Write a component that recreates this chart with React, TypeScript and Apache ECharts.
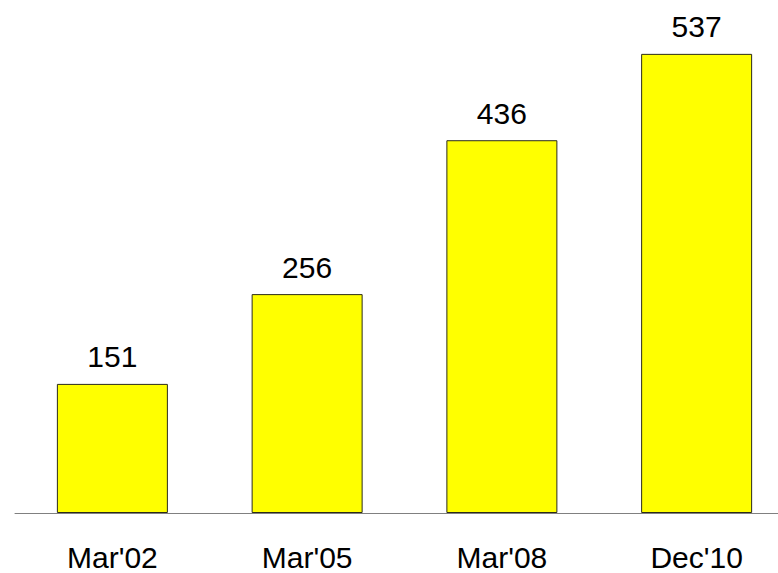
import React, { useEffect, useRef } from "react";
import * as echarts from "echarts";

// Period labels along the bottom axis and the count reached in each
const periods: string[] = ["Mar'02", "Mar'05", "Mar'08", "Dec'10"];
const counts: number[] = [151, 256, 436, 537];

export default function App() {
  const ref = useRef<HTMLDivElement>(null);

  useEffect(() => {
    document.body.style.margin = "0";
    if (!ref.current) return;
    const chart = echarts.init(ref.current, undefined, { renderer: "svg" });
    chart.setOption({
      animation: false,
      backgroundColor: "#ffffff",
      textStyle: { fontFamily: "Liberation Sans, Arial, sans-serif" },
      // the plot runs slightly past the visible frame on the right
      grid: { left: 15, right: 6, top: 0, bottom: 60, containLabel: false },
      xAxis: {
        type: "category",
        data: periods,
        axisTick: { show: false },
        axisLine: { lineStyle: { color: "#808080", width: 1 } },
        axisLabel: {
          color: "#000000",
          fontSize: 30,
          margin: 29,
          fontFamily: "Liberation Sans, Arial, sans-serif",
        },
      },
      yAxis: {
        type: "value",
        min: 0,
        max: 600,
        show: false,
        splitLine: { show: false },
      },
      series: [
        {
          type: "bar",
          data: counts,
          barWidth: 111,
          itemStyle: { color: "#ffff00", borderColor: "#2b2b1a", borderWidth: 1 },
          label: {
            show: true,
            position: "top",
            distance: 12,
            color: "#000000",
            fontSize: 30,
            fontFamily: "Liberation Sans, Arial, sans-serif",
          },
        },
      ],
    });
    return () => chart.dispose();
  }, []);

  return (
    <div style={{ width: 778, height: 573, overflow: "hidden", position: "relative" }}>
      <div ref={ref} style={{ width: 800, height: 573 }} />
    </div>
  );
}
